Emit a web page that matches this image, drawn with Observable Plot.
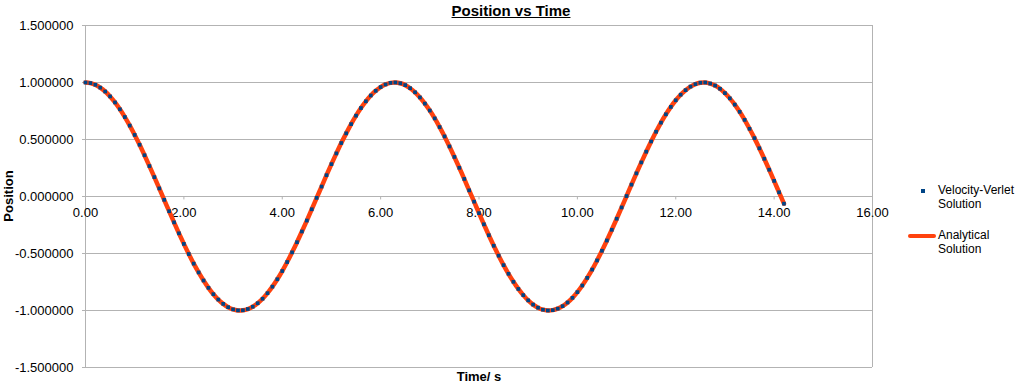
<!DOCTYPE html>
<html>
<head>
<meta charset="utf-8">
<script src="https://cdn.jsdelivr.net/npm/d3@7"></script>
<script src="https://cdn.jsdelivr.net/npm/@observablehq/plot@0.6"></script>
<style>
  html, body { margin: 0; padding: 0; background: #fff; }
  #wrap { position: relative; width: 1027px; height: 385px; font-family: "Liberation Sans", Arial, sans-serif; color: #000; }
  #title { position: absolute; left: 0; width: 1022px; top: 2px; text-align: center; font-weight: bold; font-size: 15px; text-decoration: underline; }
  #ylab { position: absolute; left: 8px; top: 196px; transform: translate(-50%, -50%) rotate(-90deg); font-weight: bold; font-size: 13px; white-space: nowrap; }
  #xlab { position: absolute; left: 479px; top: 369px; transform: translateX(-50%); font-weight: bold; font-size: 13px; white-space: nowrap; }
  #legend { position: absolute; left: 905px; top: 184px; font-size: 12px; line-height: 13.5px; }
  .item { display: flex; align-items: flex-start; margin-bottom: 18px; }
  .sym { width: 33px; height: 13.5px; display: flex; align-items: center; justify-content: center; }
  .sq { width: 4px; height: 4px; background: #004586; margin-left: 3px; }
  .ln { width: 28px; height: 4px; background: #ff420e; border-radius: 2px; }
</style>
</head>
<body>
<div id="wrap">
  <div id="title">Position vs Time</div>
  <div id="ylab">Position</div>
  <div id="xlab">Time/ s</div>
  <div id="legend"></div>
</div>
<script>
const seriesNames = ["Velocity-Verlet Solution", "Analytical Solution"];
const seriesColors = ["#004586", "#ff420e"];
const xTicks = [0, 2, 4, 6, 8, 10, 12, 14, 16];
const yTicks = [-1.5, -1, -0.5, 0, 0.5, 1, 1.5];

const time = [
 0.0,0.1,0.2,0.3,0.4,0.5,0.6,0.7,0.8,0.9,
 1.0,1.1,1.2,1.3,1.4,1.5,1.6,1.7,1.8,1.9,
 2.0,2.1,2.2,2.3,2.4,2.5,2.6,2.7,2.8,2.9,
 3.0,3.1,3.2,3.3,3.4,3.5,3.6,3.7,3.8,3.9,
 4.0,4.1,4.2,4.3,4.4,4.5,4.6,4.7,4.8,4.9,
 5.0,5.1,5.2,5.3,5.4,5.5,5.6,5.7,5.8,5.9,
 6.0,6.1,6.2,6.3,6.4,6.5,6.6,6.7,6.8,6.9,
 7.0,7.1,7.2,7.3,7.4,7.5,7.6,7.7,7.8,7.9,
 8.0,8.1,8.2,8.3,8.4,8.5,8.6,8.7,8.8,8.9,
 9.0,9.1,9.2,9.3,9.4,9.5,9.6,9.7,9.8,9.9,
 10.0,10.1,10.2,10.3,10.4,10.5,10.6,10.7,10.8,10.9,
 11.0,11.1,11.2,11.3,11.4,11.5,11.6,11.7,11.8,11.9,
 12.0,12.1,12.2,12.3,12.4,12.5,12.6,12.7,12.8,12.9,
 13.0,13.1,13.2,13.3,13.4,13.5,13.6,13.7,13.8,13.9,
 14.0,14.1,14.2
];

const verlet = [
 1.000,0.995,0.980,0.955,0.921,0.878,0.825,0.765,0.697,0.622,
 0.540,0.454,0.362,0.267,0.170,0.071,-0.029,-0.129,-0.227,-0.323,
 -0.416,-0.505,-0.589,-0.666,-0.737,-0.801,-0.857,-0.904,-0.942,-0.971,
 -0.990,-0.999,-0.998,-0.987,-0.967,-0.936,-0.897,-0.848,-0.791,-0.726,
 -0.654,-0.575,-0.490,-0.401,-0.307,-0.211,-0.112,-0.012,0.087,0.187,
 0.284,0.378,0.469,0.554,0.635,0.709,0.776,0.835,0.886,0.927,
 0.960,0.983,0.997,1.000,0.993,0.977,0.950,0.914,0.869,0.815,
 0.754,0.685,0.609,0.527,0.439,0.347,0.252,0.154,0.054,-0.045,
 -0.146,-0.244,-0.340,-0.432,-0.519,-0.602,-0.678,-0.748,-0.811,-0.865,
 -0.911,-0.948,-0.975,-0.993,-1.000,-0.997,-0.984,-0.962,-0.930,-0.889,
 -0.839,-0.781,-0.714,-0.641,-0.561,-0.476,-0.386,-0.292,-0.195,-0.096,
 0.004,0.104,0.203,0.299,0.393,0.483,0.568,0.648,0.721,0.786,
 0.844,0.893,0.933,0.964,0.986,0.998,1.000,0.991,0.973,0.945,
 0.907,0.861,0.806,0.743,0.672,0.594,0.512,0.423,0.331,0.235,
 0.137,0.037,-0.063
];

const analytical = [
 1.000,0.995,0.980,0.955,0.921,0.878,0.825,0.765,0.697,0.622,
 0.540,0.454,0.362,0.267,0.170,0.071,-0.029,-0.129,-0.227,-0.323,
 -0.416,-0.505,-0.589,-0.666,-0.737,-0.801,-0.857,-0.904,-0.942,-0.971,
 -0.990,-0.999,-0.998,-0.987,-0.967,-0.936,-0.897,-0.848,-0.791,-0.726,
 -0.654,-0.575,-0.490,-0.401,-0.307,-0.211,-0.112,-0.012,0.087,0.187,
 0.284,0.378,0.469,0.554,0.635,0.709,0.776,0.835,0.886,0.927,
 0.960,0.983,0.997,1.000,0.993,0.977,0.950,0.914,0.869,0.815,
 0.754,0.685,0.609,0.527,0.439,0.347,0.252,0.154,0.054,-0.045,
 -0.146,-0.244,-0.340,-0.432,-0.519,-0.602,-0.678,-0.748,-0.811,-0.865,
 -0.911,-0.948,-0.975,-0.993,-1.000,-0.997,-0.984,-0.962,-0.930,-0.889,
 -0.839,-0.781,-0.714,-0.641,-0.561,-0.476,-0.386,-0.292,-0.195,-0.096,
 0.004,0.104,0.203,0.299,0.393,0.483,0.568,0.648,0.721,0.786,
 0.844,0.893,0.933,0.964,0.986,0.998,1.000,0.991,0.973,0.945,
 0.907,0.861,0.806,0.743,0.672,0.594,0.512,0.423,0.331,0.235,
 0.137,0.037,-0.063
];

const gridColor = "#b3b3b3";
const fmtY = d => d3.format(".6f")(d).replace("\u2212", "-");
const fmtX = d => d3.format(".2f")(d);

const chart = Plot.plot({
  width: 1027,
  height: 385,
  marginLeft: 85,
  marginRight: 155,
  marginTop: 25,
  marginBottom: 18,
  x: { domain: [0, 16], axis: null },
  y: { domain: [-1.5, 1.5], axis: null },
  style: { fontFamily: "Liberation Sans, Arial, sans-serif", fontSize: "13px", color: "#000", background: "transparent" },
  marks: [
    Plot.gridY(yTicks, { stroke: gridColor, strokeOpacity: 1 }),
    Plot.axisY(yTicks, { tickSize: 3, tickPadding: 9, tickFormat: fmtY, stroke: gridColor, fill: "#000", label: null, fontSize: 13 }),
    Plot.ruleX([0, 16], { stroke: gridColor }),
    Plot.ruleX(xTicks, { x: d => d, y1: () => 0, y2: () => -0.03, stroke: gridColor }),
    Plot.text(xTicks, { x: d => d, y: () => 0, dy: 16, text: fmtX, fill: "#000", fontSize: 13 }),
    Plot.line(time, { x: time, y: analytical, stroke: seriesColors[1], strokeWidth: 4.5, curve: "catmull-rom" }),
    Plot.dot(time, { x: time, y: verlet, symbol: "square", r: 2.1, fill: seriesColors[0], stroke: "none" })
  ]
});
chart.style.position = "absolute";
chart.style.left = "0";
chart.style.top = "0";
document.getElementById("wrap").prepend(chart);

const legend = document.getElementById("legend");
seriesNames.forEach((name, i) => {
  const item = document.createElement("div");
  item.className = "item";
  const sym = document.createElement("div");
  sym.className = "sym";
  const s = document.createElement("div");
  s.className = i === 0 ? "sq" : "ln";
  sym.appendChild(s);
  const label = document.createElement("div");
  const parts = name.split(" ");
  label.innerHTML = parts[0] + "<br>" + parts.slice(1).join(" ");
  item.appendChild(sym);
  item.appendChild(label);
  legend.appendChild(item);
});
</script>
</body>
</html>
